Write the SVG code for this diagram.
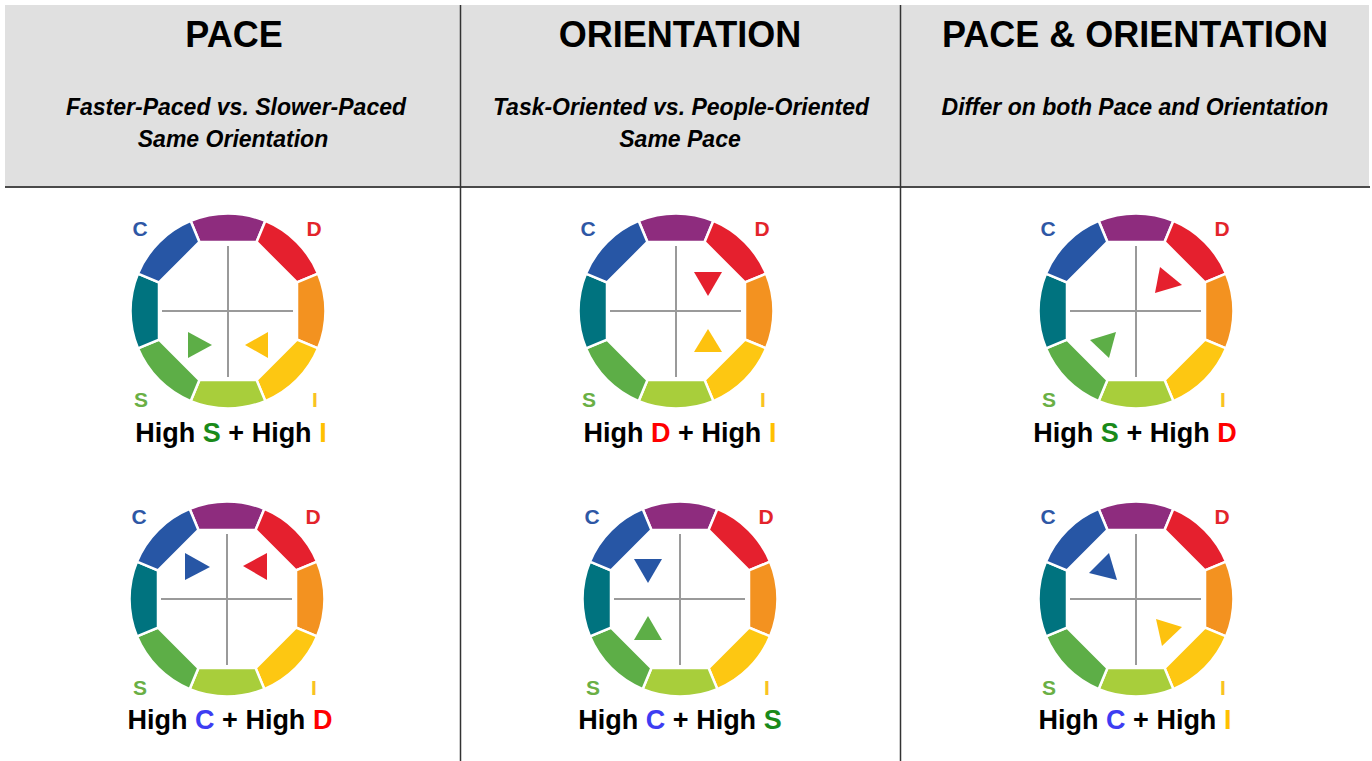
<svg xmlns="http://www.w3.org/2000/svg" xmlns:xlink="http://www.w3.org/1999/xlink" width="1372" height="761" viewBox="0 0 1372 761">
<style>
.h{font-family:"Liberation Sans",Arial,sans-serif;font-weight:bold;font-size:36px;fill:#000;text-anchor:middle}
.sub{font-family:"Liberation Sans",Arial,sans-serif;font-weight:bold;font-style:italic;font-size:23px;fill:#000;text-anchor:middle}
.lbl{font-family:"Liberation Sans",Arial,sans-serif;font-weight:bold;font-size:27px;fill:#000;text-anchor:middle}
.k{font-family:"Liberation Sans",Arial,sans-serif;font-weight:bold;font-size:21px;text-anchor:middle}
.kc{fill:#2E57A5}.kd{fill:#E3242B}.ks{fill:#6AAF45}.ki{fill:#F9C31F}
.tc{fill:#3D3DF2}.td{fill:#FF0000}.ts{fill:#1A8A1A}.ti{fill:#FFC000}
.seg{stroke:#fff;stroke-width:2.5}
.cross{stroke:#9A9A9A;stroke-width:2}
.grid{stroke:#333;stroke-width:1.5}
</style>
<defs>
<path id="sg" d="M -37.312 -90.077 A 97.5 97.5 0 0 1 37.312 -90.077 L 28.580 -69 L -28.580 -69 Z"/>
<g id="ring">
<use xlink:href="#sg" class="seg" fill="#8E2C7E"/>
<use xlink:href="#sg" class="seg" fill="#E5202E" transform="rotate(45)"/>
<use xlink:href="#sg" class="seg" fill="#F39220" transform="rotate(90)"/>
<use xlink:href="#sg" class="seg" fill="#FDC712" transform="rotate(135)"/>
<use xlink:href="#sg" class="seg" fill="#A8CE3B" transform="rotate(180)"/>
<use xlink:href="#sg" class="seg" fill="#5DAE47" transform="rotate(225)"/>
<use xlink:href="#sg" class="seg" fill="#00737F" transform="rotate(270)"/>
<use xlink:href="#sg" class="seg" fill="#2756A5" transform="rotate(315)"/>
<line class="cross" x1="-66" y1="0" x2="65" y2="0"/>
<line class="cross" x1="0" y1="-65" x2="0" y2="66"/>
</g>
</defs>
<rect width="1372" height="761" fill="#fff"/>
<g id="header">
<rect x="5" y="5" width="1364" height="182" fill="#E0E0E0"/>
<text class="h" x="234" y="47">PACE</text>
<text class="sub" x="236" y="115">Faster-Paced vs. Slower-Paced</text>
<text class="sub" x="233" y="147">Same Orientation</text>
<text class="h" x="680" y="47">ORIENTATION</text>
<text class="sub" x="681" y="115">Task-Oriented vs. People-Oriented</text>
<text class="sub" x="680" y="147">Same Pace</text>
<text class="h" x="1135" y="47">PACE &amp; ORIENTATION</text>
<text class="sub" x="1135" y="115">Differ on both Pace and Orientation</text>
</g>
<g id="grid">
<line class="grid" x1="5" y1="187" x2="1370" y2="187" style="stroke:#4A4A4A;stroke-width:2"/>
<line class="grid" x1="460.5" y1="5" x2="460.5" y2="761"/>
<line class="grid" x1="900.5" y1="5" x2="900.5" y2="761"/>
</g>
<g id="w11">
<use xlink:href="#ring" transform="translate(228,311)"/>
<text class="k kc" x="140" y="236">C</text><text class="k kd" x="314" y="236">D</text>
<text class="k ks" x="141" y="407">S</text><text class="k ki" x="315" y="407">I</text>
<polygon points="188,332 188,358 212,345" fill="#5DAE47"/>
<polygon points="268,332 268,358 245,345" fill="#FDC20F"/>
<text class="lbl" x="231" y="442">High <tspan class="ts">S</tspan> + High <tspan class="ti">I</tspan></text>
</g>
<g id="w21">
<use xlink:href="#ring" transform="translate(227,599)"/>
<text class="k kc" x="139" y="524">C</text><text class="k kd" x="313" y="524">D</text>
<text class="k ks" x="140" y="695">S</text><text class="k ki" x="314" y="695">I</text>
<polygon points="185,553 185,580 210,567" fill="#2756A5"/>
<polygon points="267,553 267,580 243,566" fill="#E5202E"/>
<text class="lbl" x="230" y="729">High <tspan class="tc">C</tspan> + High <tspan class="td">D</tspan></text>
</g>
<g id="w12">
<use xlink:href="#ring" transform="translate(676,311)"/>
<text class="k kc" x="588" y="236">C</text><text class="k kd" x="762" y="236">D</text>
<text class="k ks" x="589" y="407">S</text><text class="k ki" x="763" y="407">I</text>
<polygon points="694,272 722,272 708,296" fill="#E5202E"/>
<polygon points="694,352 722,352 708,329" fill="#FDC20F"/>
<text class="lbl" x="680" y="442">High <tspan class="td">D</tspan> + High <tspan class="ti">I</tspan></text>
</g>
<g id="w22">
<use xlink:href="#ring" transform="translate(680,599)"/>
<text class="k kc" x="592" y="524">C</text><text class="k kd" x="766" y="524">D</text>
<text class="k ks" x="593" y="695">S</text><text class="k ki" x="767" y="695">I</text>
<polygon points="634,559 662,559 648,583" fill="#2756A5"/>
<polygon points="634,640 662,640 648,616" fill="#5DAE47"/>
<text class="lbl" x="680" y="729">High <tspan class="tc">C</tspan> + High <tspan class="ts">S</tspan></text>
</g>
<g id="w13">
<use xlink:href="#ring" transform="translate(1136,311)"/>
<text class="k kc" x="1048" y="236">C</text><text class="k kd" x="1222" y="236">D</text>
<text class="k ks" x="1049" y="407">S</text><text class="k ki" x="1223" y="407">I</text>
<polygon points="1160,267 1182,285 1155,293" fill="#E5202E"/>
<polygon points="1116,332 1109,358 1090,340" fill="#5DAE47"/>
<text class="lbl" x="1135" y="442">High <tspan class="ts">S</tspan> + High <tspan class="td">D</tspan></text>
</g>
<g id="w23">
<use xlink:href="#ring" transform="translate(1136,599)"/>
<text class="k kc" x="1048" y="524">C</text><text class="k kd" x="1222" y="524">D</text>
<text class="k ks" x="1049" y="695">S</text><text class="k ki" x="1223" y="695">I</text>
<polygon points="1109,553 1117,580 1089,573" fill="#2756A5"/>
<polygon points="1156,619 1182,627 1162,646" fill="#FDC20F"/>
<text class="lbl" x="1135" y="729">High <tspan class="tc">C</tspan> + High <tspan class="ti">I</tspan></text>
</g>
</svg>
